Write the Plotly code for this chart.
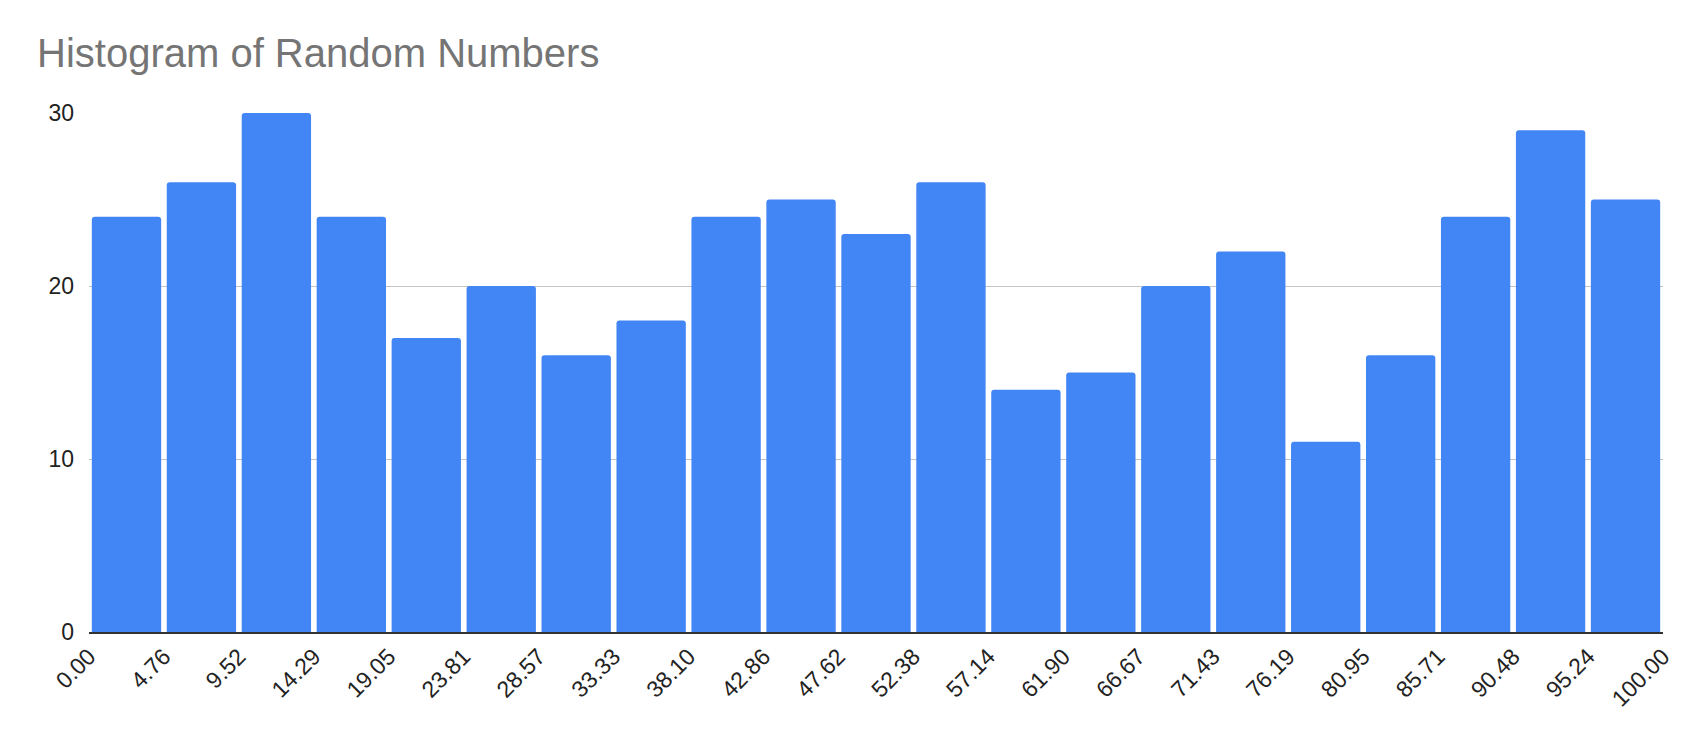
import plotly.graph_objects as go

title_text = "Histogram of Random Numbers"
bin_count = 21
bin_start = 0.0
bin_end = 100.0
counts = [24, 26, 30, 24, 17, 20, 16, 18, 24, 25, 23, 26, 14, 15, 20, 22, 11, 16, 24, 29, 25]
edge_labels = ["0.00", "4.76", "9.52", "14.29", "19.05", "23.81", "28.57", "33.33",
               "38.10", "42.86", "47.62", "52.38", "57.14", "61.90", "66.67", "71.43",
               "76.19", "80.95", "85.71", "90.48", "95.24", "100.00"]
y_ticks = [0, 10, 20, 30]

width = (bin_end - bin_start) / bin_count
edges = [bin_start + i * width for i in range(bin_count + 1)]
centers = [bin_start + (i + 0.5) * width for i in range(bin_count)]

font_family = "Liberation Sans, Arial, sans-serif"

fig = go.Figure(go.Bar(
    x=centers, y=counts, width=width * 0.925,
    marker=dict(color="#4285F4", line=dict(width=0), cornerradius=3),
    hoverinfo="x+y",
))

fig.update_layout(
    width=1700, height=742,
    paper_bgcolor="white", plot_bgcolor="white",
    margin=dict(l=81, r=45, t=105, b=118),
    showlegend=False,
    title=dict(text=title_text, x=29 / 1700, xref="container", xanchor="left",
               y=1 - 31 / 742, yref="container", yanchor="top",
               font=dict(family=font_family, size=40, color="#757575")),
    font=dict(family=font_family, size=23, color="#222222"),
)
fig.update_xaxes(
    range=[bin_start, bin_end], tickvals=edges, ticktext=edge_labels,
    tickangle=-45, showgrid=False, zeroline=False,
    showline=True, linecolor="#333333", linewidth=2,
    ticks="", tickfont=dict(family=font_family, size=23, color="#222222"),
)
fig.update_yaxes(
    range=[0, 30], tickvals=y_ticks, showgrid=True, gridcolor="#c4c4c4", gridwidth=1.3,
    zeroline=False, showline=False, ticks="", ticklabelstandoff=14,
    tickfont=dict(family=font_family, size=23, color="#222222"),
)

fig.write_html("out.html")
